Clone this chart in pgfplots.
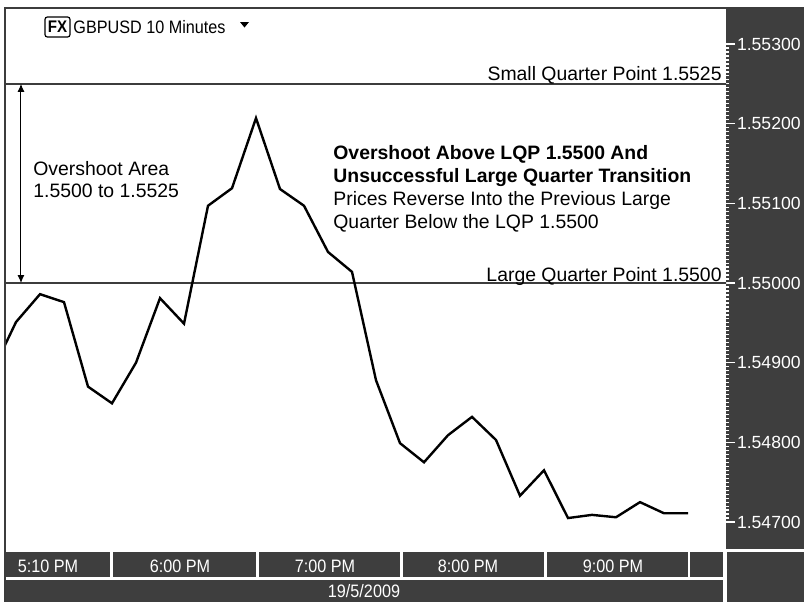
\documentclass[border=0pt]{standalone}
\usepackage{pgfplots}
\pgfplotsset{compat=1.18}
\usetikzlibrary{arrows.meta}
\usepackage{fontspec}
\setmainfont{Liberation Sans}
\newfontfamily\narrowfont[FakeStretch=0.9]{Liberation Sans}
\definecolor{panel}{RGB}{62,62,62}
\definecolor{linegray}{RGB}{60,60,60}
\begin{document}
\begin{tikzpicture}
\begin{scope}[shift={(-3pt,275pt)},x=0.5pt,y=-0.5pt]
\fill[white] (0,0) rectangle (804,602);
\fill[panel] (726,9) rectangle (804,549);
\fill[panel] (727,552) rectangle (804,602);
\foreach \a/\b in {6/110,113/256,259/400,403/544,547/688,690/723} \fill[panel] (\a,552) rectangle (\b,577);
\fill[panel] (6,580) rectangle (723,602);
\end{scope}

\begin{axis}[at={(0,0)}, anchor=south west, scale only axis,
  width=360pt, height=271pt,
  xmin=5.833, xmax=305.83, ymin=1.546649, ymax=1.553452,
  axis line style={draw=none},
  xtick=\empty,
  ytick={1.547,1.548,1.549,1.550,1.551,1.552,1.553},
  yticklabels={1.54700,1.54800,1.54900,1.55000,1.55100,1.55200,1.55300},
  scaled y ticks=false,
  ytick pos=right, yticklabel pos=right,
  tick align=outside,
  major tick length=4.5pt, minor tick length=1.5pt,
  minor y tick num=19,
  every tick/.style={white, line width=0.6pt},
  yticklabel style={white, font=\fontsize{8.8}{10}\selectfont, inner sep=0.8pt, anchor=west},
  clip=true]
\addplot[linegray, line width=0.75pt, forget plot] coordinates {(0,1.5525) (310,1.5525)};
\addplot[linegray, line width=0.75pt, forget plot] coordinates {(0,1.5500) (310,1.5500)};
\addplot[black, line width=1.2pt] coordinates {
(0,1.54888) (10,1.54951) (20,1.54986) (30,1.54976) (40,1.54870)
(50,1.54849) (60,1.54900) (70,1.54981) (80,1.54949) (90,1.55097)
(100,1.55119) (110,1.55207) (120,1.55118) (130,1.55097) (140,1.55039)
(150,1.55014) (160,1.54878) (170,1.54799) (180,1.54775) (190,1.54809)
(200,1.54832) (210,1.54803) (220,1.54733) (230,1.54765) (240,1.54705)
(250,1.54709) (260,1.54706) (270,1.54725) (280,1.54711) (290,1.54711)};
\draw[{Latex[length=4pt,width=3.5pt]}-{Latex[length=4pt,width=3.5pt]}, line width=0.5pt, black]
  (axis cs:12.08,1.5525) -- (axis cs:12.08,1.5500);
\end{axis}

\begin{scope}[shift={(-3pt,275pt)},x=0.5pt,y=-0.5pt]
\draw[linegray, line width=1pt] (4,7.5) -- (804,7.5);
\draw[linegray, line width=1pt] (5,7) -- (5,602);
% header
\node[draw, rounded corners=1.2pt, line width=0.6pt, inner sep=0pt, minimum width=12.5pt, minimum height=10pt, font=\bfseries\narrowfont\fontsize{8.4}{9}\selectfont] at (57.5,27) {FX};
\node[anchor=base west, inner sep=0pt, font=\narrowfont\fontsize{9}{10}\selectfont] at (73,33) {GBPUSD 10 Minutes};
\fill (240,22) -- (249,22) -- (244.5,27.5) -- cycle;
% annotations
\node[anchor=base west, inner sep=0pt, font=\fontsize{9.7}{11}\selectfont] at (33,175) {Overshoot Area};
\node[anchor=base west, inner sep=0pt, font=\fontsize{9.7}{11}\selectfont] at (33,197) {1.5500 to 1.5525};
\node[anchor=base west, inner sep=0pt, font=\bfseries\fontsize{9.7}{11}\selectfont] at (333,159) {Overshoot Above LQP 1.5500 And};
\node[anchor=base west, inner sep=0pt, font=\bfseries\fontsize{9.7}{11}\selectfont] at (333,182) {Unsuccessful Large Quarter Transition};
\node[anchor=base west, inner sep=0pt, font=\fontsize{9.7}{11}\selectfont] at (333,205) {Prices Reverse Into the Previous Large};
\node[anchor=base west, inner sep=0pt, font=\fontsize{9.7}{11}\selectfont] at (333,228) {Quarter Below the LQP 1.5500};
\node[anchor=base east, inner sep=0pt, font=\fontsize{9.7}{11}\selectfont] at (722,80) {Small Quarter Point 1.5525};
\node[anchor=base east, inner sep=0pt, font=\fontsize{9.7}{11}\selectfont] at (722,281) {Large Quarter Point 1.5500};
% time axis
\foreach \xx/\tt in {48/5:10 PM,180/6:00 PM,325/7:00 PM,468/8:00 PM,613/9:00 PM}
  \node[white, anchor=base, inner sep=0pt, font=\narrowfont\fontsize{9}{10}\selectfont] at (\xx,572) {\tt};
\node[white, anchor=base, inner sep=0pt, font=\narrowfont\fontsize{9}{10}\selectfont] at (364,597) {19/5/2009};
\pgfresetboundingbox
\path[use as bounding box] (0,0) rectangle (804,602);
\end{scope}
\end{tikzpicture}
\end{document}
